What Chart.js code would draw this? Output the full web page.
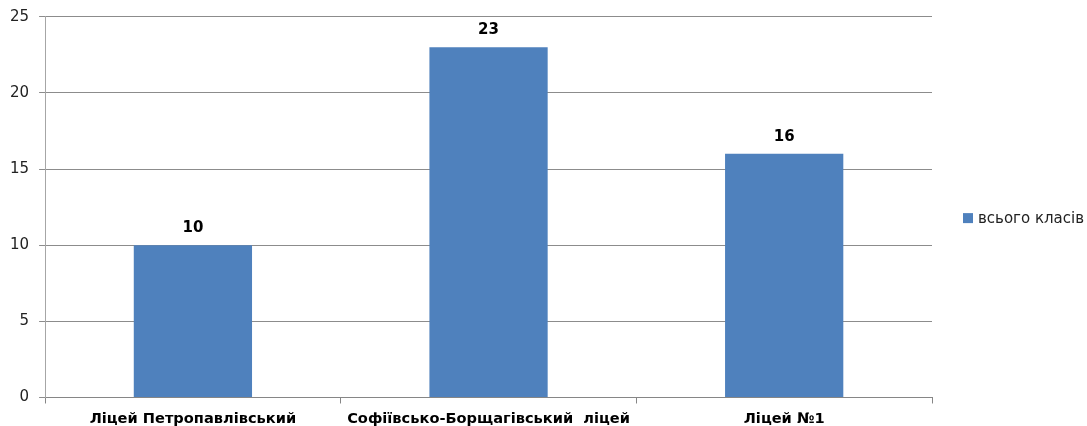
<!DOCTYPE html>
<html>
<head>
<meta charset="utf-8">
<script src="https://cdn.jsdelivr.net/npm/chart.js@4"></script>
<style>
  html, body { margin: 0; padding: 0; background: #fff; }
  #wrap { width: 1087px; height: 426px; }
</style>
</head>
<body>
<div id="wrap"><canvas id="chart"></canvas></div>
<script>
// дані з діаграми
const categories = ["Ліцей Петропавлівський", "Софіївсько-Борщагівський  ліцей", "Ліцей №1"];
const seriesName = "всього класів";
const classCounts = [10, 23, 16];
const yTicks = [0, 5, 10, 15, 20, 25];
const barColor = "#4F81BD";

// підписи значень над стовпцями
const valueLabels = {
    id: "valueLabels",
    afterDatasetsDraw(chart) {
        const ctx = chart.ctx;
        ctx.save();
        ctx.font = "bold 15px 'DejaVu Sans'";
        ctx.fillStyle = "#000";
        ctx.textAlign = "center";
        ctx.textBaseline = "middle";
        chart.getDatasetMeta(0).data.forEach((bar, i) => {
            ctx.fillText(String(classCounts[i]), bar.x, bar.y - 17);
        });
        ctx.restore();
    }
};

// легенда праворуч (як у Excel)
const sideLegend = {
    id: "sideLegend",
    afterDraw(chart) {
        const ctx = chart.ctx;
        const a = chart.chartArea;
        const x = a.right + 31;
        const y = (a.top + a.bottom) / 2 + 11;
        ctx.save();
        ctx.fillStyle = barColor;
        ctx.fillRect(x, y - 5, 10, 10);
        ctx.fillStyle = "#222";
        ctx.font = "15px 'DejaVu Sans'";
        ctx.textAlign = "left";
        ctx.textBaseline = "middle";
        ctx.fillText(seriesName, x + 15, y + 1);
        ctx.restore();
    }
};

const ctx = document.getElementById("chart");
new Chart(ctx, {
    type: "bar",
    data: {
        labels: categories,
        datasets: [{
            label: seriesName,
            data: classCounts,
            backgroundColor: barColor,
            borderWidth: 0,
            categoryPercentage: 0.4,
            barPercentage: 1.0
        }]
    },
    options: {
        responsive: true,
        maintainAspectRatio: false,
        animation: false,
        layout: { padding: { top: 0, left: 0, right: 155, bottom: -9 } },
        plugins: {
            legend: { display: false },
            tooltip: { enabled: false }
        },
        scales: {
            x: {
                offset: true,
                grid: {
                    offset: true,
                    drawOnChartArea: false,
                    drawTicks: true,
                    tickLength: 6,
                    color: "#868686"
                },
                border: { color: "#868686" },
                ticks: {
                    color: "#000",
                    padding: 7,
                    font: { family: "'DejaVu Sans'", size: 14.6, weight: "bold" },
                    maxRotation: 0
                }
            },
            y: {
                min: 0,
                max: 25,
                afterBuildTicks(axis) {
                    axis.ticks = yTicks.map(v => ({ value: v }));
                },
                grid: {
                    color: "#8c8c8c",
                    tickLength: 6
                },
                border: { color: "#a6a6a6" },
                ticks: {
                    color: "#222",
                    padding: 10,
                    font: { family: "'DejaVu Sans'", size: 15, lineHeight: 0.9 }
                }
            }
        }
    },
    plugins: [valueLabels, sideLegend]
});
</script>
</body>
</html>
